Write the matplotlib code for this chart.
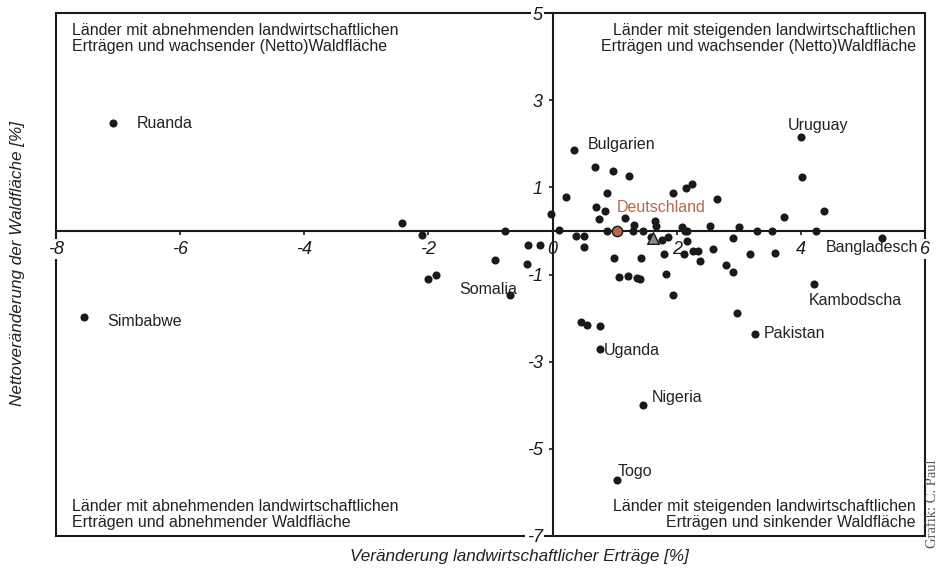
import matplotlib
matplotlib.use("Agg")
import matplotlib.pyplot as plt
from matplotlib.patches import Rectangle

plt.rcParams['font.family'] = ['Liberation Sans', 'DejaVu Sans']

# ---- data -------------------------------------------------------------
x_vals = [-7.08, -7.55, -2.42, -2.11, -2.00, -1.88, -0.76, -0.93, -0.69, -0.39,
          -0.21, -0.41, -0.03, 0.10, 0.22, 0.38, 0.345, 0.50, 0.50, 0.69,
          0.97, 1.23, 0.88, 0.70, 0.84, 0.74, 1.16, 0.88, 1.31, 1.30,
          1.46, 1.65, 1.67, 1.59, 1.76, 1.86, 0.99, 1.42, 1.79, 1.07,
          1.22, 1.36, 1.41, 1.82, 1.94, 2.15, 2.24, 2.65, 2.08, 2.13,
          2.17, 2.16, 2.12, 2.27, 2.35, 2.37, 2.59, 2.54, 2.90, 2.91,
          2.80, 3.00, 3.30, 3.53, 3.73, 4.02, 4.37, 4.24, 5.30, 3.18,
          3.59, 1.94, 4.21, 4.00, 0.45, 0.55, 0.77, 0.76, 1.45, 1.04,
          3.26, 2.97]
y_vals = [2.47, -1.97, 0.19, -0.10, -1.11, -1.01, 0.00, -0.67, -1.47, -0.32,
          -0.32, -0.76, 0.38, 0.02, 0.78, -0.12, 1.85, -0.11, -0.37, 1.46,
          1.37, 1.27, 0.87, 0.55, 0.46, 0.27, 0.30, 0.00, 0.13, 0.00,
          0.00, 0.23, 0.11, -0.14, -0.20, -0.15, -0.63, -0.61, -0.54, -1.05,
          -1.03, -1.07, -1.11, -0.99, 0.88, 0.98, 1.08, 0.73, 0.08, 0.00,
          0.00, -0.23, -0.53, -0.46, -0.47, -0.69, -0.42, 0.11, -0.17, -0.95,
          -0.79, 0.08, 0.00, 0.00, 0.33, 1.24, 0.46, 0.00, -0.17, -0.53,
          -0.50, -1.46, -1.22, 2.15, -2.10, -2.16, -2.18, -2.71, -3.99, -5.72,
          -2.36, -1.88]

germany_x, germany_y = 1.03, 0.0
mean_x, mean_y = 1.62, -0.16

label_names = ["Ruanda", "Simbabwe", "Bulgarien", "Uruguay", "Bangladesch",
               "Kambodscha", "Pakistan", "Somalia", "Uganda", "Nigeria", "Togo"]
label_x = [-7.08, -7.55, 0.345, 4.00, 5.30, 4.21, 3.26, -0.69, 0.76, 1.45, 1.04]
label_y = [2.47, -1.97, 1.85, 2.15, -0.17, -1.22, -2.36, -1.47, -2.71, -3.99, -5.72]

x_ticks = [-8, -6, -4, -2, 0, 2, 4, 6]
y_ticks = [5, 3, 1, -1, -3, -5, -7]

quadrant_texts = [
    "Länder mit abnehmenden landwirtschaftlichen\nErträgen und wachsender (Netto)Waldfläche",
    "Länder mit steigenden landwirtschaftlichen\nErträgen und wachsender (Netto)Waldfläche",
    "Länder mit abnehmenden landwirtschaftlichen\nErträgen und abnehmender Waldfläche",
    "Länder mit steigenden landwirtschaftlichen\nErträgen und sinkender Waldfläche",
]

# ---- figure -----------------------------------------------------------
fig = plt.figure(figsize=(9.41, 5.69), dpi=100)
ax = fig.add_axes([56/941, 33/569, 869/941, 523/569])
ax.set_xlim(-8, 6)
ax.set_ylim(-7, 5)

ink = '#1a1a1a'
ax.patch.set_visible(False)
for s in ['top', 'right']:
    ax.spines[s].set_visible(False)
ax.spines['left'].set_position(('data', 0))
ax.spines['bottom'].set_position(('data', 0))
for s in ['left', 'bottom']:
    ax.spines[s].set_linewidth(1.5)
    ax.spines[s].set_color(ink)

frame = Rectangle((0, 0), 1, 1, transform=ax.transAxes, fill=False,
                  lw=1.5, ec=ink, zorder=1, clip_on=False)
ax.add_patch(frame)

ax.set_xticks(x_ticks)
ax.set_yticks(y_ticks)
ax.set_xticklabels([str(v) for v in x_ticks])
ax.set_yticklabels([str(v) for v in y_ticks])
ax.tick_params(direction='out', length=3, width=1.2, color=ink, pad=4,
               labelsize=13, labelcolor=ink)
for lab in ax.get_xticklabels() + ax.get_yticklabels():
    lab.set_fontstyle('italic')
for lab in [ax.get_xticklabels()[0], ax.get_xticklabels()[-1],
            ax.get_yticklabels()[0], ax.get_yticklabels()[-1]]:
    lab.set_bbox(dict(facecolor='white', edgecolor='none', pad=1))

# points
ax.scatter(x_vals, y_vals, s=34, color=ink, zorder=4, linewidths=0)
ax.scatter([mean_x], [mean_y], marker='^', s=70, color='#8a8a8a',
           edgecolors=ink, linewidths=1.0, zorder=5)
ax.scatter([germany_x], [germany_y], s=55, color='#b8674e',
           edgecolors=ink, linewidths=1.0, zorder=6)

# labels
offsets = {
    "Ruanda": ((17, 0), 'left'),
    "Simbabwe": ((17, -3.6), 'left'),
    "Bulgarien": ((10, 4.3), 'left'),
    "Uruguay": ((-9.4, 8.6), 'left'),
    "Bangladesch": ((-40.5, -6.5), 'left'),
    "Kambodscha": ((-4, -11.5), 'left'),
    "Pakistan": ((6.5, 0), 'left'),
    "Somalia": ((5, 3.6), 'right'),
    "Uganda": ((3, -1.4), 'left'),
    "Nigeria": ((6.8, 5.5), 'left'),
    "Togo": ((0, 6), 'left'),
}
for name, lx, ly in zip(label_names, label_x, label_y):
    (dx, dy), ha = offsets[name]
    ax.annotate(name, (lx, ly), xytext=(dx, dy), textcoords='offset points',
                ha=ha, va='center', fontsize=11.5, color='#222222', zorder=7)
ax.annotate("Deutschland", (germany_x, germany_y), xytext=(0, 16.5),
            textcoords='offset points', ha='left', va='center',
            fontsize=11.5, color='#b8674e', zorder=7)

# quadrant texts
qkw = dict(fontsize=11.5, color='#222222', linespacing=1.1)
fig.text(72/941, 1 - 23/569, quadrant_texts[0], ha='left', va='top', **qkw)
fig.text(916/941, 1 - 23/569, quadrant_texts[1], ha='right', va='top', **qkw)
fig.text(72/941, 1 - 530/569, quadrant_texts[2], ha='left', va='bottom', **qkw)
fig.text(916/941, 1 - 530/569, quadrant_texts[3], ha='right', va='bottom', **qkw)

# axis titles
fig.text(519/941, 1 - 556/569, "Veränderung landwirtschaftlicher Erträge [%]",
         ha='center', va='center', fontsize=12.3, style='italic', color='#222222')
fig.text(18/941, 1 - 263/569, "Nettoveränderung der Waldfläche [%]",
         ha='center', va='center', rotation=90, fontsize=12.3, style='italic',
         color='#222222')
fig.text(933/941, 1 - 504/569, "Grafik: C. Paul", ha='center', va='center',
         rotation=90, fontsize=10.5, family=['Liberation Serif', 'DejaVu Serif'],
         color='#555555')

fig.savefig('out.png', dpi=100)
